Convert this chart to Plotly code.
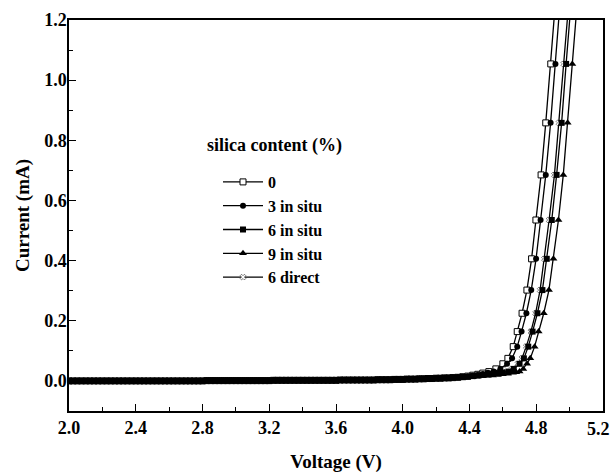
import plotly.graph_objects as go

# ---- data ----
# shared low-voltage region where all curves overlap
base_v = [2.000,2.025,2.050,2.075,2.100,2.125,2.150,2.175,2.200,2.225,2.250,2.275,2.300,2.325,2.350,2.375,2.400,2.425,2.450,2.475,
          2.500,2.525,2.550,2.575,2.600,2.625,2.650,2.675,2.700,2.725,2.750,2.775,2.800,2.825,2.850,2.875,2.900,2.925,2.950,2.975,
          3.000,3.025,3.050,3.075,3.100,3.125,3.150,3.175,3.200,3.225,3.250,3.275,3.300,3.325,3.350,3.375,3.400,3.425,3.450,3.475,
          3.500,3.525,3.550,3.575,3.600,3.625,3.650,3.675,3.700,3.725,3.750,3.775,3.800,3.825,3.850,3.875,3.900,3.925,3.950,3.975,
          4.000,4.025,4.050,4.075,4.100,4.125,4.150,4.175,4.200,4.225,4.250,4.275,4.300]
base_i = [0.000,0.000,0.000,0.000,0.000,0.000,0.000,0.000,0.000,0.000,0.000,0.000,0.000,0.000,0.000,0.000,0.000,0.000,0.000,0.000,
          0.000,0.000,0.000,0.000,0.000,0.000,0.000,0.000,0.000,0.000,0.000,0.000,0.000,0.001,0.001,0.001,0.001,0.001,0.001,0.001,
          0.001,0.001,0.001,0.001,0.001,0.001,0.001,0.001,0.001,0.002,0.002,0.002,0.002,0.002,0.002,0.002,0.002,0.002,0.002,0.002,
          0.002,0.002,0.002,0.002,0.002,0.003,0.003,0.003,0.003,0.003,0.003,0.003,0.003,0.003,0.004,0.004,0.004,0.004,0.005,0.005,
          0.005,0.006,0.006,0.006,0.007,0.007,0.008,0.008,0.009,0.009,0.010,0.010,0.011]

# individual rising parts
v_0 = [4.33,4.36,4.39,4.42,4.45,4.48,4.516,4.558,4.600,4.630,4.662,4.686,4.715,4.744,4.772,4.798,4.829,4.857,4.887,4.915]
i_0 = [0.012,0.014,0.016,0.019,0.022,0.026,0.031,0.040,0.057,0.075,0.114,0.164,0.225,0.302,0.406,0.535,0.685,0.858,1.054,1.26]

v_3 = [4.33,4.36,4.39,4.42,4.45,4.48,4.51,4.545,4.585,4.625,4.655,4.686,4.712,4.741,4.770,4.799,4.826,4.857,4.886,4.915,4.943]
i_3 = [0.012,0.013,0.015,0.017,0.020,0.023,0.027,0.031,0.040,0.057,0.075,0.114,0.164,0.225,0.302,0.406,0.535,0.685,0.858,1.054,1.26]

v_6 = [4.33,4.36,4.39,4.42,4.45,4.48,4.51,4.54,4.57,4.60,4.635,4.665,4.700,4.726,4.752,4.778,4.807,4.837,4.863,4.893,4.922,4.952,4.979,5.009]
i_6 = [0.012,0.013,0.014,0.016,0.018,0.020,0.022,0.024,0.026,0.028,0.031,0.040,0.057,0.075,0.114,0.164,0.225,0.302,0.406,0.535,0.685,0.858,1.054,1.26]

v_9 = [4.33,4.36,4.39,4.42,4.45,4.48,4.51,4.54,4.57,4.60,4.63,4.66,4.68,4.70,4.722,4.745,4.764,4.790,4.814,4.845,4.876,4.903,4.933,4.962,4.988,5.016,5.046]
i_9 = [0.011,0.012,0.013,0.014,0.015,0.016,0.017,0.018,0.020,0.022,0.024,0.027,0.029,0.031,0.040,0.057,0.075,0.114,0.164,0.225,0.302,0.406,0.535,0.685,0.858,1.054,1.26]

v_6d = [4.33,4.36,4.39,4.42,4.45,4.48,4.51,4.54,4.57,4.60,4.625,4.655,4.690,4.714,4.740,4.768,4.796,4.823,4.849,4.877,4.909,4.936,4.965,4.995]
i_6d = [0.012,0.013,0.014,0.016,0.018,0.020,0.022,0.024,0.026,0.028,0.031,0.040,0.057,0.075,0.114,0.164,0.225,0.302,0.406,0.535,0.685,0.858,1.054,1.26]

names = ["0", "3 in situ", "6 in situ", "9 in situ", "6 direct"]
x_ticks = [2.0, 2.4, 2.8, 3.2, 3.6, 4.0, 4.4, 4.8, 5.2]
y_ticks = [0.0, 0.2, 0.4, 0.6, 0.8, 1.0, 1.2]

# (name, voltages, currents, marker, legend rank); drawn white-filled first
series = [
    (names[4], v_6d, i_6d, dict(symbol="x", color="white", size=5, line=dict(color="black", width=0.5)), 5),
    (names[0], v_0, i_0, dict(symbol="square", color="white", size=6, line=dict(color="black", width=1)), 1),
    (names[1], v_3, i_3, dict(symbol="circle", color="black", size=6, line=dict(color="black", width=0)), 2),
    (names[2], v_6, i_6, dict(symbol="square", color="black", size=6, line=dict(color="black", width=0)), 3),
    (names[3], v_9, i_9, dict(symbol="triangle-up", color="black", size=7, line=dict(color="black", width=0)), 4),
]

FONT = "Liberation Serif"
TICKFONT = dict(family=FONT, size=18, color="black", weight="bold")

fig = go.Figure()
for name, vv, ii, mk, rank in series:
    fig.add_trace(go.Scatter(
        x=base_v + vv, y=base_i + ii, name=name, mode="lines+markers",
        line=dict(color="black", width=1.3), marker=mk, legendrank=rank,
    ))

axis_common = dict(
    showline=True, linecolor="black", linewidth=1.5, mirror=True,
    ticks="inside", ticklen=7, tickwidth=1.3, tickcolor="black",
    showgrid=False, zeroline=False, tickfont=TICKFONT,
)

# last x label is drawn as an annotation right-aligned at its tick so it stays inside the page
x_text = [f"{t:.1f}" for t in x_ticks]
last_label = x_text[-1]
x_text[-1] = ""

fig.update_xaxes(
    range=[2.0, 5.2], tickvals=x_ticks, ticktext=x_text,
    minor=dict(ticks="inside", ticklen=4, tickwidth=1.2, tickcolor="black", dtick=0.2),
    title=dict(text="Voltage (V)", font=dict(family=FONT, size=19, color="black", weight="bold"), standoff=17),
    ticklabelstandoff=0,
    **axis_common,
)
fig.update_yaxes(
    range=[-0.1, 1.2], tickvals=y_ticks, ticktext=[f"{t:.1f}" for t in y_ticks],
    minor=dict(ticks="inside", ticklen=4, tickwidth=1.2, tickcolor="black", dtick=0.1),
    title=dict(text="Current (mA)", font=dict(family=FONT, size=19, color="black", weight="bold"), standoff=10),
    ticklabelstandoff=-3,
    **axis_common,
)

fig.add_annotation(
    text=last_label, xref="x", yref="paper", x=x_ticks[-1], y=0,
    xanchor="right", yanchor="top", yshift=-6, xshift=9, showarrow=False,
    font=TICKFONT,
)

fig.add_annotation(
    text="silica content (%)", xref="paper", yref="paper", x=(205-69)/534, y=1-(145-20)/391,
    xanchor="left", yanchor="middle", showarrow=False,
    font=dict(family=FONT, size=18, color="black", weight="bold"),
)

fig.update_layout(
    width=611, height=473,
    margin=dict(l=69, r=8, t=20, b=62, autoexpand=False),
    paper_bgcolor="white", plot_bgcolor="white",
    showlegend=True,
    legend=dict(
        x=(218-69)/534, y=1-(165-20)/391, xanchor="left", yanchor="top",
        bgcolor="rgba(0,0,0,0)", borderwidth=0,
        font=dict(family=FONT, size=16, color="black", weight="bold"),
        itemwidth=40, tracegroupgap=0, traceorder="normal",
    ),
)

fig.write_html("out.html")
